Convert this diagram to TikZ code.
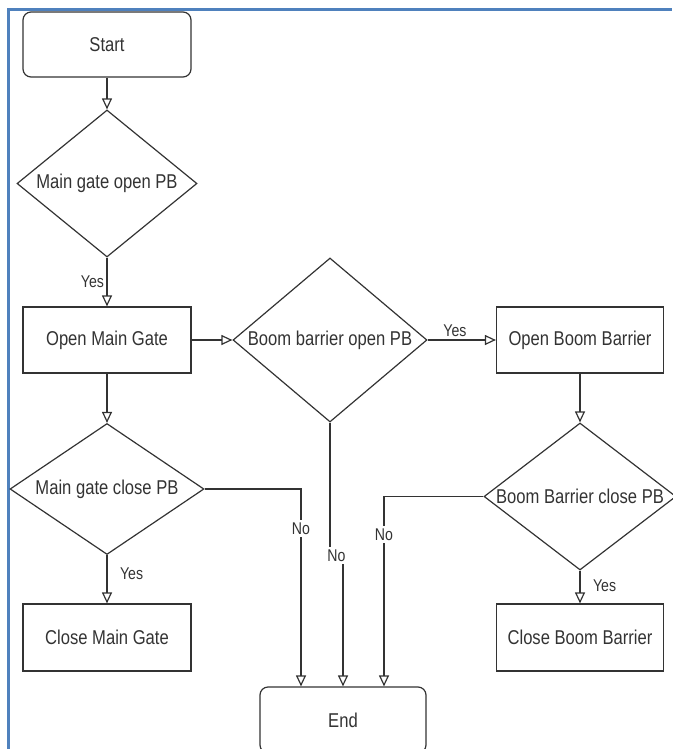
\documentclass[tikz,border=0pt]{standalone}
\usepackage{fontspec}
\setmainfont{Liberation Sans}[FakeStretch=0.83]
\usepackage{tikz}
\usetikzlibrary{shapes.geometric,arrows.meta}
\definecolor{frameblue}{RGB}{79,129,189}
\definecolor{ink}{RGB}{51,51,51}

\begin{document}
\begin{tikzpicture}[x=1pt,y=-1pt,
        every node/.style={text=ink},
        term/.style={draw=ink, line width=1.2pt, rounded corners=8pt, minimum width=168pt, minimum height=65pt, font=\fontsize{20}{22}\selectfont},
        proc/.style={draw=ink, line width=1.2pt, minimum width=168pt, minimum height=66pt, font=\fontsize{20}{22}\selectfont},
        decide/.style={diamond, draw=ink, line width=1.2pt, inner sep=0pt, font=\fontsize{20}{22}\selectfont},
        flow/.style={draw=ink, line width=1.2pt, -{Triangle[open, length=11pt, width=10pt]}},
        lbl/.style={font=\fontsize{17}{19}\selectfont, inner sep=2.5pt}]
            \useasboundingbox (0,0) rectangle (672,749);
            \draw[frameblue, line width=3pt] (8.7,749) -- (8.7,9.5) -- (672,9.5);
            % left column
            \node[term] (start) at (107,44.5) {Start};
            \node[decide, minimum width=180pt, minimum height=147pt] (gateopen) at (107,183.5) {\makebox[0pt]{Main gate open PB}};
            \node[proc] (opengate) at (107,340) {Open Main Gate};
            \node[decide, minimum width=194pt, minimum height=131pt] (gateclose) at (107,489) {\makebox[0pt]{Main gate close PB}};
            \node[proc, minimum height=67pt] (closegate) at (107,637.5) {Close Main Gate};
            % middle
            \node[decide, minimum width=194pt, minimum height=164pt] (boomopen) at (330,340) {\makebox[0pt]{Boom barrier open PB}};
            \node[term, minimum width=166pt, minimum height=66pt] (end) at (343,720) {End};
            % right column
            \node[proc, minimum width=167pt] (openboom) at (580,340) {Open Boom Barrier};
            \node[decide, minimum width=192pt, minimum height=147pt] (boomclose) at (580,496.5) {\makebox[0pt]{Boom Barrier close PB}};
            \node[proc, minimum width=167pt, minimum height=67pt] (closeboom) at (580,637.5) {Close Boom Barrier};
            % connectors
            \draw[flow] (start.south) -- (gateopen.north);
            \draw[flow] (gateopen.south) -- node[lbl, left, pos=0.5] {Yes} (opengate.north);
            \draw[flow] (opengate.east) -- (boomopen.west);
            \draw[flow] (boomopen.east) -- node[lbl, above, pos=0.4] {Yes} (openboom.west);
            \draw[flow] (opengate.south) -- (gateclose.north);
            \draw[flow] (openboom.south) -- (boomclose.north);
            \draw[flow] (gateclose.south) -- node[lbl, right=10pt, pos=0.38] {Yes} (closegate.north);
            \draw[flow] (boomclose.south) -- node[lbl, right=10pt, pos=0.45] {Yes} (closeboom.north);
            \draw[flow] (gateclose.east) -| node[lbl, fill=white, pos=0.6] {No} ([xshift=-42pt]end.north);
            \draw[flow] (boomopen.south) -- ([yshift=-133pt]boomopen.south) -| node[lbl, fill=white, pos=0.25] {No} (end.north);
            \draw[flow] (boomclose.west) -| node[lbl, fill=white, pos=0.6] {No} ([xshift=41pt]end.north);
        \end{tikzpicture}
\end{document}
